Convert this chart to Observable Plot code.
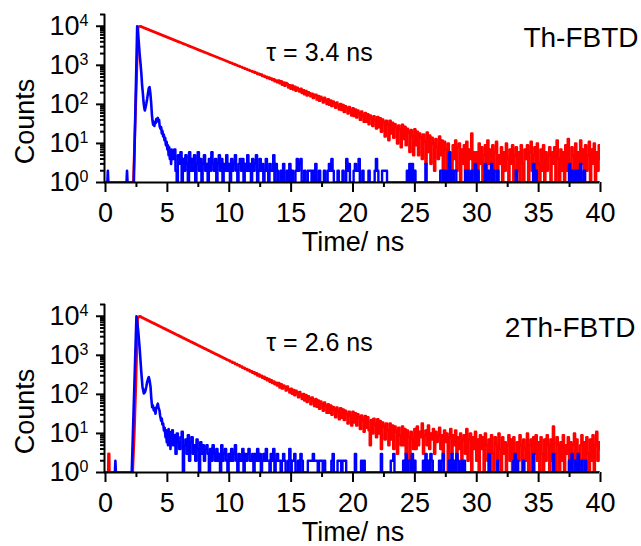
<!DOCTYPE html>
<html><head><meta charset="utf-8">
<script src="https://cdn.jsdelivr.net/npm/d3@7"></script>
<script src="https://cdn.jsdelivr.net/npm/@observablehq/plot@0.6"></script>
<style>body{margin:0;background:#fff} svg{display:block}</style>
</head><body><div id="chart"></div>
<script>
// ---- labels & ticks ----
const xMajorTicks = [0, 5, 10, 15, 20, 25, 30, 35, 40];
const xMinorTicks = [2.5, 7.5, 12.5, 17.5, 22.5, 27.5, 32.5, 37.5];
const yMajorTicks = [1, 10, 100, 1000, 10000];
const yTickLabels = ["10^0", "10^1", "10^2", "10^3", "10^4"];
const panelNames = ["Th-FBTD", "2Th-FBTD"];
const lifetimeLabels = ["τ = 3.4 ns", "τ = 2.6 ns"];
const xTitle = "Time/ ns";
const yTitle = "Counts";
const DT = 0.1; // channel width of the regular parts (ns)

// ---- Th-FBTD: decay (red) ----
const redTopHead = [[2.25,1],[2.64,9500],[2.75,10000],[2.85,9900]];
const redTopStart = 2.9;
const redTopGrid = [9750,
9450,9180,8910,8650,8400,8160,7920,7690,7470,7250,
7040,6840,6640,6450,6260,6080,5900,5730,5570,5410,
5250,5100,4950,4800,4670,4530,4400,4270,4150,4030,
3910,3800,3690,3580,3480,3380,3280,3180,3090,3000,
2910,2830,2750,2670,2590,2510,2440,2370,2300,2240,
2170,2110,2050,1990,1930,1870,1820,1770,1720,1670,
1620,1570,1530,1480,1440,1400,1360,1320,1280,1240,
1210,1160,1150,1090,1080,1030,1020,970,960,915,
910,862,858,810,808,765,762,722,718,680,
690,640,651,598,610,571,585,530,545,502,
512,470,490,445,461,420,438,392,410,370,
410,345,392,318,366,300,352,332,270,312,
250,305,238,282,222,268,246,212,252,196,
232,180,220,168,205,194,160,188,146,178,
176,132,165,124,158,140,112,148,130,102,
135,98,126,90,118,106,82,112,95,74,
102,72,96,64,90,80,58,86,70,52,
80,50,74,46,70,58,40,66,52,36,
60,36,56,31,52,44,28,50,40,24,
48,26,44,20,41,35,15,38,30,12,
38,18,34,14,31,26,10,29,22,8,
30,13,27,9,24,19,6,22,15,5,
23,9,20,5,18,14,4,17,11,3,
19,6,16,3,14,10,2,13,8,4,
15,5,12,2,11,7,1,10,6,3,
1,9,4,12,2,8,10,1,7,3,
9,2,11,1,7,4,18,2,6,1,
6,1,10,3,8,1,5,9,2,12,
3,7,1,9,2,6,11,1,5,3,
8,1,6,2,10,4,1,7,3,9,
1,5,8,2,6,1,9,3,1,7,
4,9,1,6,11,2,5,8,1,10,
3,1,7,2,9,1,6,2,5,8,
1,6,3,8,1,12,4,1,7,2,
6,1,9,2,13,3,1,8,5,1,
10,2,6,1,12,3,7,1,9,2,
5,11,1,7,3,10,1,6,2,9,
4];

// ---- Th-FBTD: instrument response (blue) ----
const blueTopHead = [[0,1],[0.15,1],[0.19,2],[0.23,1],[1.7,1],[1.74,2],[1.78,1],[2.29,1],[2.56,10000],[2.60,8000],[2.65,5500],[2.70,3500],[2.76,1900],[2.83,1100],[2.90,600],[2.96,300],[3.02,190],[3.08,110],[3.14,80],[3.18,70],[3.24,85],[3.30,105],[3.37,140],[3.44,200],[3.50,260],[3.56,277],[3.62,200],[3.69,110],[3.75,55],[3.80,38],[3.85,30],[3.90,34],[3.95,28],[4.00,36],[4.05,33],[4.10,42],[4.16,38],[4.23,45],[4.28,36],[4.33,40],[4.38,27],[4.44,24],[4.50,26],[4.55,18],[4.60,21],[4.66,15],[4.71,17],[4.77,12],[4.82,14],[4.88,9],[4.94,11],[5.00,7],[5.05,9],[5.10,5],[5.15,8],[5.20,4],[5.25,6],[5.30,3],[5.35,7],[5.40,4]];
const blueTopStart = 5.5;
const blueTopGrid = [4,7,2,1,5,
3,6,1,4,2,5,3,1,6,2,
4,2,5,1,3,6,2,4,1,3,
5,2,3,1,4,2,6,3,2,4,
1,3,5,2,4,1,3,2,5,2,
3,1,4,2,3,5,2,1,3,4,
2,4,1,3,2,5,2,3,1,4,
2,3,5,1,2,4,2,3,1,2,
4,2,1,3,2,2,5,1,3,2,
1,1,2,1,3,1,1,2,1,3,
1,2,1,1,2,4,2,3,4,1,
1,2,1,1,2,2,2,1,2,1,
3,1,1,2,1,1,1,2,1,1,
2,3,2,4,2,1,1,1,2,1,
1,1,2,1,1,4,2,3,1,1,
1,2,3,2,2,4,1,1,2,1,
1,1,1,2,1,1,1,1,2,4,
2,1,1,1,2,2,2,2,1,1,
1,1,1,1,1,1,1,1,1,1,
1,1,1,1,2,1,3,1,3,1,
2,1,1,1,1,1,1,1,1,3,
1,1,1,1,1,1,1,1,1,1,
1,2,2,1,2,1,2,1,6,1,
2,1,2,2,1,1,1,1,1,1,
1,2,1,2,1,1,2,1,1,3,
1,2,1,1,1,1,1,3,1,2,
1,2,3,1,2,1,1,2,1,1,
1,1,1,1,1,1,1,1,1,1,
1,1,2,1,1,1,1,1,1,1,
1,1,1,1,1,1,3,1,2,1,
1,1,1,1,1,1,1,1,1,1,
1,1,1,1,1,1,1,1,1,1,
1,1,1,1,1,3,1,2,1,1,
2,1,2,1,3,1,1,2,1,1,
1,1,1,1,1,1,1,1,1,1,
1];

// ---- 2Th-FBTD: decay (red) ----
const redBotHead = [[0.22,1],[0.24,3],[0.30,3],[0.32,1],[0.33,null],[2.2,1],[2.33,10],[2.45,150],[2.6,9000],[2.75,10000],[2.85,9750]];
const redBotStart = 2.9;
const redBotGrid = [9470,
9140,8815,8502,8200,7909,7628,7357,7096,6844,6601,
6367,6141,5923,5713,5510,5314,5126,4944,4768,4599,
4436,4278,4126,3980,3838,3702,3571,3444,3322,3204,
3090,2980,2875,2773,2674,2579,2488,2399,2314,2232,
2153,2076,2003,1931,1863,1797,1733,1671,1612,1555,
1500,1446,1395,1345,1298,1252,1207,1164,1123,1083,
1045,1008,972,937,904,872,841,811,782,754,
740,695,690,640,645,598,600,555,560,515,
520,480,485,445,450,415,420,385,392,358,
372,330,350,305,325,284,301,265,282,246,
262,228,247,210,230,196,215,182,199,168,
196,150,182,140,170,158,126,160,136,112,
140,104,130,95,124,110,84,115,96,76,
102,70,96,64,90,78,56,84,68,50,
76,48,70,43,66,56,38,62,50,34,
56,34,52,30,48,40,26,46,36,23,
44,25,41,22,38,31,18,36,28,16,
36,19,33,16,31,25,13,29,22,11,
28,14,26,12,5,22,10,24,17,8,
23,10,21,4,19,15,7,18,12,5,
18,7,16,4,15,11,3,14,9,5,
15,5,13,3,12,8,2,11,7,4,
13,4,15,5,11,8,18,3,9,12,
5,16,4,10,7,13,3,11,6,9,
14,4,9,2,12,6,10,1,8,13,
3,9,5,12,2,8,4,10,1,7,
9,3,13,2,7,10,1,8,4,11,
2,7,1,9,4,8,1,10,5,2,
7,1,9,3,1,8,5,2,10,4,
1,8,3,6,1,5,9,2,7,1,
8,3,1,6,2,9,5,1,7,4,
2,10,1,5,7,1,8,3,9,2,
6,1,8,3,1,7,2,9,5,1,
7,2,15,3,1,8,5,1,6,2,
9,1,5,3,8,1,6,2,5,10,
1,7,3,1,5,9,2,6,1,8,
3,1,7,2,9,1,5,11,2,6,
4];

// ---- 2Th-FBTD: instrument response (blue) ----
const blueBotHead = [[0,1],[0.76,1],[0.8,2],[0.84,1],[2.12,1],[2.5,10000],[2.64,4400],[2.77,1350],[2.88,420],[2.99,155],[3.10,105],[3.17,112],[3.23,126],[3.30,160],[3.37,210],[3.44,250],[3.50,277],[3.57,220],[3.64,155],[3.70,80],[3.77,47],[3.83,52],[3.90,39],[3.97,44],[4.04,32],[4.10,45],[4.16,50],[4.23,58],[4.29,45],[4.36,39],[4.42,28],[4.50,21],[4.55,24],[4.60,17],[4.66,18],[4.72,12],[4.78,14],[4.85,8],[4.90,12],[4.95,6],[5.00,10],[5.05,5],[5.10,13],[5.15,7],[5.20,11],[5.25,4],[5.30,9],[5.35,6],[5.40,12]];
const blueBotStart = 5.5;
const blueBotGrid = [5,9,3,10,6,
4,8,11,1,5,7,3,9,2,6,
8,3,5,2,7,4,1,6,3,5,
2,4,5,3,1,4,2,5,3,2,
4,2,3,1,5,2,3,4,2,1,
3,2,4,2,3,5,2,1,3,2,
2,4,1,3,2,3,4,2,2,3,
1,3,2,4,2,3,1,2,3,2,
4,2,2,1,3,2,4,1,2,3,
2,2,1,2,3,2,1,1,2,4,
1,2,2,3,1,1,2,1,3,2,
1,1,1,1,2,2,2,2,3,2,
2,2,1,2,2,2,1,2,1,1,
1,1,1,2,3,1,1,1,2,2,
2,1,2,2,2,1,1,1,1,1,
1,1,3,1,1,1,1,2,1,2,
1,1,1,1,1,1,1,1,1,1,
1,1,1,3,1,1,1,1,1,1,
1,2,2,3,1,1,1,1,1,1,
1,2,1,3,1,2,2,1,3,1,
2,1,1,1,1,1,1,2,1,3,
1,2,1,3,2,1,1,1,1,1,
2,1,2,3,1,1,1,1,2,1,
3,1,2,1,3,2,1,1,2,1,
2,1,1,1,1,1,1,1,1,1,
1,1,1,1,1,1,1,1,1,1,
3,1,1,1,1,1,1,2,1,1,
1,1,1,1,1,1,1,1,1,1,
2,3,1,2,1,1,1,1,2,1,
1,1,1,1,1,1,3,1,1,1,
1,1,1,1,1,1,1,1,1,1,
1,1,3,1,1,1,1,1,1,1,
1,1,1,1,1,2,1,3,1,1,
2,1,3,1,1,2,1,1,2,1,
1,1,1,1,1,1,1,1,1,1,
1];

// ---- build series (zero counts shown on the 10^0 baseline) ----
// head: free-time points drawn straight; grid: regular channels drawn as a histogram
function build(head, start, grid) {
  const h = head.map(([t, v]) => ({t, v: v == null ? NaN : Math.max(v, 1)}));
  const last = h[h.length - 1];
  const g = [{t: last.t, v: last.v}];
  grid.forEach((v, i) => g.push({t: +(start + i * DT).toFixed(2), v: Math.max(v, 1)}));
  return {head: h, grid: g};
}
const panels = [
  {red: build(redTopHead, redTopStart, redTopGrid), blue: build(blueTopHead, blueTopStart, blueTopGrid), name: panelNames[0], tau: lifetimeLabels[0], height: 290, nameDx: 38},
  {red: build(redBotHead, redBotStart, redBotGrid), blue: build(blueBotHead, blueBotStart, blueBotGrid), name: panelNames[1], tau: lifetimeLabels[1], height: 256, nameDx: 35}
];

const minorY = [];
for (const p of [1, 10, 100, 1000]) for (let m = 2; m <= 9; m++) minorY.push(m * p);
minorY.push(20000);

const FONT = "'Liberation Sans', Arial, Helvetica, sans-serif";

function seriesMarks(s, color) {
  return [
    Plot.line(s.head, {x: "t", y: "v", stroke: color, strokeWidth: 2.6, clip: true}),
    Plot.line(s.grid, {x: "t", y: "v", stroke: color, strokeWidth: 2.4, curve: "step", clip: true})
  ];
}

function makePanel(cfg) {
  const plotTop = 14, plotBottom = 182;
  const svg = Plot.plot({
    width: 641, height: cfg.height,
    marginLeft: 105, marginRight: 41, marginTop: plotTop, marginBottom: cfg.height - plotBottom,
    x: {domain: [0, 40]},
    y: {type: "log", domain: [1, 20000]},
    style: {fontFamily: FONT, color: "#000", background: "#fff", overflow: "visible"},
    marks: [
      Plot.axisX({ticks: xMinorTicks, tickSize: 5, strokeWidth: 2, tickFormat: () => "", label: null}),
      Plot.axisX({ticks: xMajorTicks, tickSize: 10, tickPadding: 10, strokeWidth: 2, fontSize: 27, tickFormat: d => String(d), label: null}),
      Plot.axisY({ticks: minorY, tickSize: 5, strokeWidth: 2, tickFormat: () => "", label: null}),
      Plot.axisY({ticks: yMajorTicks, tickSize: 9, tickPadding: 8, strokeWidth: 2, fontSize: 27,
                  tickFormat: d => yTickLabels[yMajorTicks.indexOf(d)], label: null}),
      ...seriesMarks(cfg.red, "#ff0000"),
      ...seriesMarks(cfg.blue, "#0000ff"),
      Plot.ruleX([0], {y1: 1, y2: 20000, strokeWidth: 2, dx: -1}),
      Plot.ruleY([1], {x1: 0, x2: 40, strokeWidth: 2, dx: -1}),
      Plot.text([cfg.name], {frameAnchor: "top-right", textAnchor: "end", lineAnchor: "top", dx: cfg.nameDx, dy: 13, fontSize: 28}),
      Plot.text([cfg.tau], {frameAnchor: "top-left", textAnchor: "middle", lineAnchor: "top", dx: 214, dy: 29, fontSize: 25}),
      Plot.text([yTitle], {frameAnchor: "left", rotate: -90, textAnchor: "middle", lineAnchor: "middle", dx: -80, dy: 23, fontSize: 27}),
      Plot.text([xTitle], {frameAnchor: "bottom", textAnchor: "middle", lineAnchor: "top", dy: 49, fontSize: 27})
    ]
  });
  // render 10^n labels with a real superscript
  svg.querySelectorAll('g[aria-label="y-axis tick label"] text').forEach(el => {
    const s = el.textContent;
    if (!s.includes("^")) return;
    const [base, exp] = s.split("^");
    el.textContent = base;
    const ts = document.createElementNS("http://www.w3.org/2000/svg", "tspan");
    ts.setAttribute("dy", "-9");
    ts.setAttribute("font-size", "16");
    ts.textContent = exp;
    el.appendChild(ts);
  });
  return svg;
}

const chart = document.getElementById("chart");
panels.forEach(cfg => chart.appendChild(makePanel(cfg)));
</script>
</body></html>
